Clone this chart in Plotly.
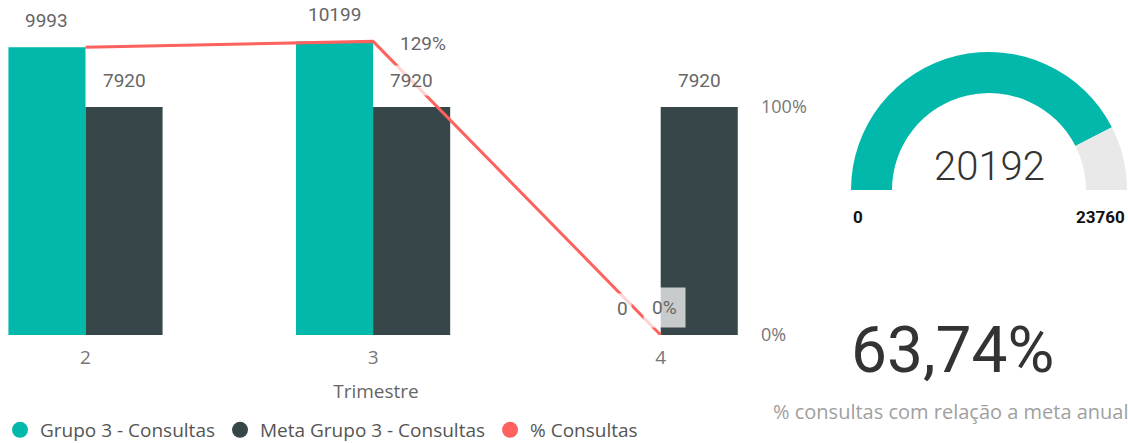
import plotly.graph_objects as go

# ---------------- data ----------------
categories = [2, 3, 4]
grupo3_consultas = [9993, 10199, 0]
meta_grupo3 = [7920, 7920, 7920]
pct_consultas = [1.2617, 1.2878, 0.0]
pct_label_shown = [False, True, True]

gauge_value = 20192
gauge_min = 0
gauge_max = 23760
kpi_value = 63.74
kpi_caption = "% consultas com relação a meta anual"

series_names = ["Grupo 3 - Consultas", "Meta Grupo 3 - Consultas", "% Consultas"]

# ---------------- style ----------------
TEAL = "#01B8AA"
DARK = "#374649"
RED = "#FD625E"
ARC_GREY = "#E9E9E9"
UI_FONT = "Open Sans"
NUM_FONT = "Roboto"

W, H = 1128, 443


def fx(p):
    return p / W


def fy(p):
    return 1 - p / H


# bar chart geometry (pixels)
PX_PER_CAT = 287.6
X0_PX = 85.5          # pixel of first category centre
PLOT_RIGHT_PX = 752
BASE_PX = 335         # baseline pixel
REF_PX = 228          # pixel height of the 7920 / 100% level
BARGAP = 0.464
bw = (1 - BARGAP) / 2

xr0 = categories[0] - X0_PX / PX_PER_CAT
xr1 = categories[0] + (PLOT_RIGHT_PX - X0_PX) / PX_PER_CAT
y_top = meta_grupo3[0] * BASE_PX / REF_PX
y2_top = 1.0 * BASE_PX / REF_PX

fig = go.Figure()

fig.add_bar(x=categories, y=grupo3_consultas, name=series_names[0],
            marker=dict(color=TEAL, line=dict(width=0)), showlegend=False,
            hoverinfo="skip")
fig.add_bar(x=categories, y=meta_grupo3, name=series_names[1],
            marker=dict(color=DARK, line=dict(width=0)), showlegend=False,
            hoverinfo="skip")
fig.add_scatter(x=categories, y=pct_consultas, yaxis="y2", mode="lines",
                name=series_names[2], line=dict(color=RED, width=3),
                showlegend=False, hoverinfo="skip")

# legend entries with round markers
for nm, col in zip(series_names, [TEAL, DARK, RED]):
    fig.add_scatter(x=[None], y=[None], mode="markers", name=nm,
                    marker=dict(symbol="circle", size=20, color=col),
                    showlegend=True)

# gauge as half donut
fig.add_pie(values=[gauge_value - gauge_min, gauge_max - gauge_value, gauge_max - gauge_min],
            marker=dict(colors=[TEAL, ARC_GREY, "rgba(0,0,0,0)"], line=dict(width=0)),
            hole=0.703, rotation=270, direction="clockwise", sort=False,
            textinfo="none", hoverinfo="skip", showlegend=False,
            domain=dict(x=[fx(851), fx(1127)], y=[fy(328), fy(52)]))

annotations = []
lab_font = dict(family=NUM_FONT, size=19, color="#666666")
LBG = "rgba(255,255,255,0.72)"
for i, c in enumerate(categories):
    annotations.append(dict(x=c - bw / 2, y=grupo3_consultas[i], xref="x", yref="y",
                            text=str(grupo3_consultas[i]), showarrow=False, yshift=27,
                            xanchor="center", yanchor="middle",
                            font=lab_font, bgcolor=LBG, borderpad=3))
    annotations.append(dict(x=c + bw / 2, y=meta_grupo3[i], xref="x", yref="y",
                            text=str(meta_grupo3[i]), showarrow=False, yshift=27,
                            xanchor="center", yanchor="middle",
                            font=lab_font, bgcolor=LBG, borderpad=3))
pct_style = {1: (50, -2, 4), 2: (4, 28, 8)}
for i, c in enumerate(categories):
    if not pct_label_shown[i]:
        continue
    dx, dy, pad = pct_style.get(i, (0, 27, 4))
    annotations.append(dict(x=c, y=pct_consultas[i], xref="x", yref="y2",
                            text=f"{pct_consultas[i]*100:.0f}%", showarrow=False,
                            xanchor="center", yanchor="middle",
                            xshift=dx, yshift=dy, font=lab_font, bgcolor=LBG,
                            borderpad=pad))


def paper_text(x, y, text, font, xanchor="center"):
    return dict(x=fx(x), y=fy(y), xref="paper", yref="paper", text=text,
                showarrow=False, xanchor=xanchor, yanchor="middle", font=font)


# gauge + KPI texts
annotations += [
    paper_text(989, 166, str(gauge_value),
               dict(family=NUM_FONT, size=40, color="#333333", weight=300)),
    paper_text(851, 217, str(gauge_min),
               dict(family=NUM_FONT, size=17, color="#111111", weight="bold"), "left"),
    paper_text(1127, 217, str(gauge_max),
               dict(family=NUM_FONT, size=17, color="#111111", weight="bold"), "right"),
    paper_text(952, 350, f"{kpi_value:.2f}".replace(".", ",") + "%",
               dict(family=NUM_FONT, size=64, color="#333333")),
    paper_text(951, 411, kpi_caption, dict(family=UI_FONT, size=20, color="#A0A0A0")),
]

fig.update_layout(
    width=W, height=H, autosize=False,
    margin=dict(l=0, r=0, t=0, b=0, autoexpand=False),
    paper_bgcolor="white", plot_bgcolor="white",
    barmode="group", bargap=BARGAP, bargroupgap=0,
    font=dict(family=UI_FONT, color="#666666"),
    xaxis=dict(domain=[0, fx(PLOT_RIGHT_PX)], range=[xr0, xr1],
               tickvals=categories, ticktext=[str(c) for c in categories],
               tickfont=dict(size=19, color="#777777"),
               showgrid=False, zeroline=False, showline=False, ticks="",
               ticklabelstandoff=9,
               title=dict(text="Trimestre", font=dict(size=19, color="#666666"),
                          standoff=15)),
    yaxis=dict(domain=[fy(BASE_PX), 1], range=[0, y_top], visible=False),
    yaxis2=dict(overlaying="y", side="right", anchor="x", range=[0, y2_top],
                tickvals=[0, 1], tickformat=".0%", showgrid=False, zeroline=False,
                showline=False, ticks="", ticklabelstandoff=8,
                tickfont=dict(size=18, color="#777777")),
    legend=dict(orientation="h", x=0, xanchor="left", y=fy(430), yanchor="middle",
                font=dict(size=19, color="#555555"), itemwidth=30,
                bgcolor="rgba(0,0,0,0)", traceorder="normal"),
    annotations=annotations,
    showlegend=True,
)

post = (
    "var css='margin:0;padding:0;overflow:hidden;width:1128px;height:443px;';"
    "document.documentElement.style.cssText=css;"
    "document.body.style.cssText=css;"
    "var gd=document.getElementById('{plot_id}');"
    "gd.parentElement.style.cssText=css;"
)
fig.write_html("out.html", config={"displayModeBar": False}, post_script=post)
